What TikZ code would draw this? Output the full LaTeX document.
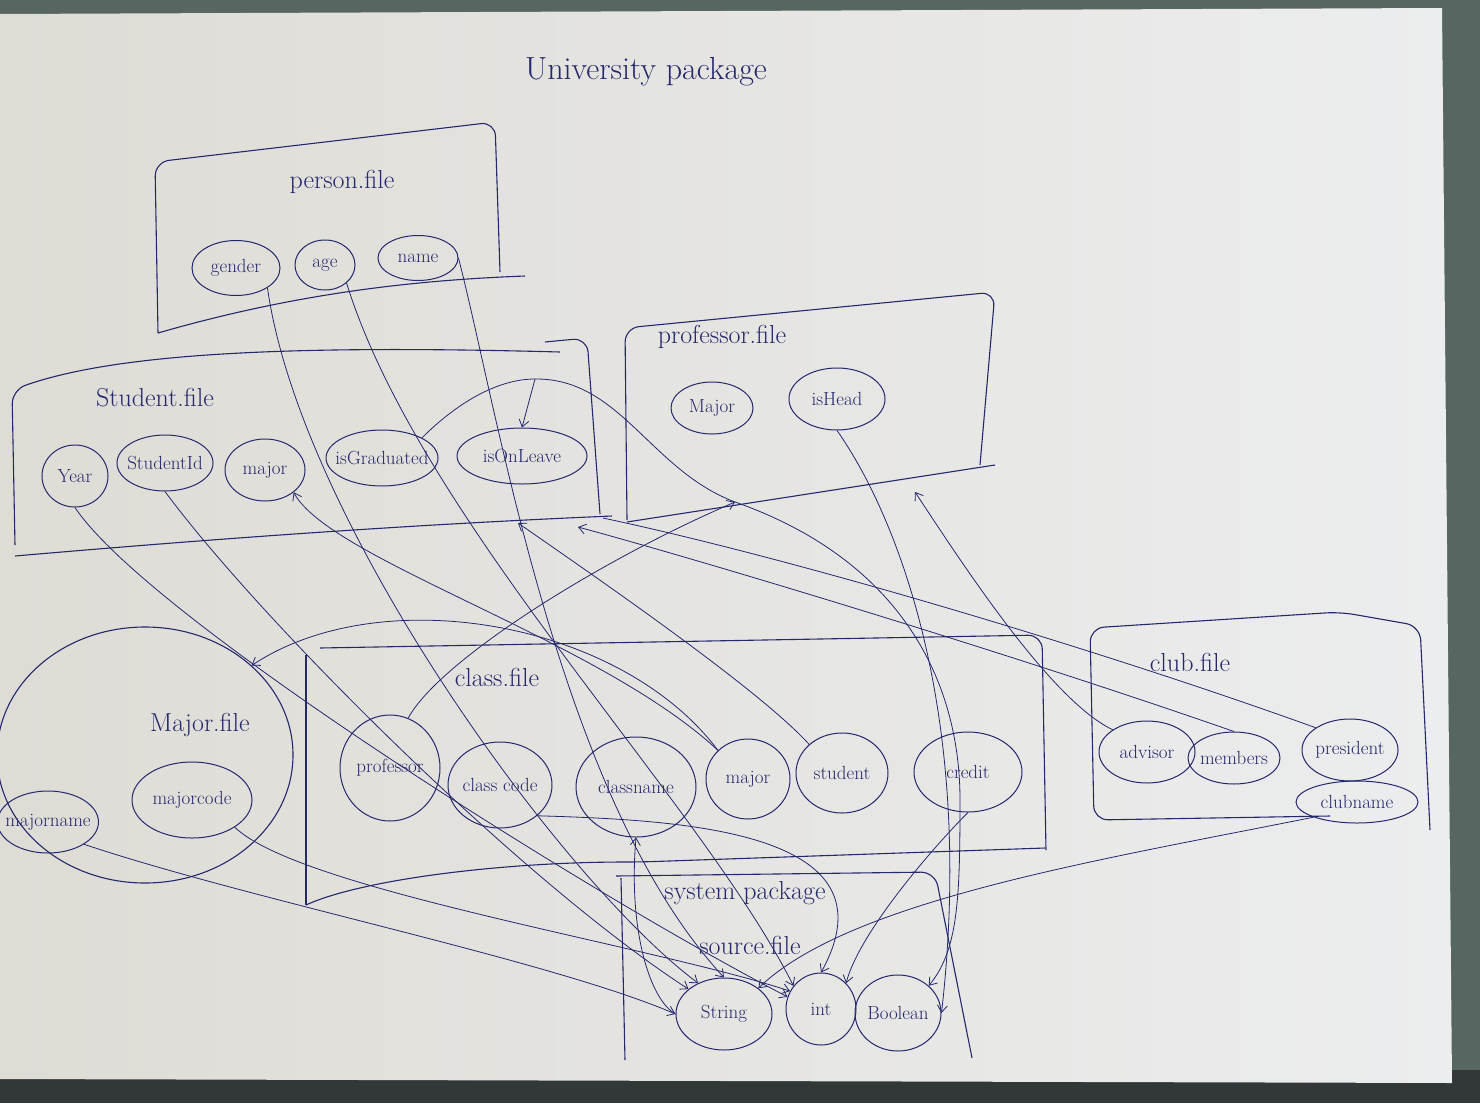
\documentclass[tikz,border=0pt]{standalone}
\usepackage{tikz}
\usetikzlibrary{arrows.meta, positioning, shapes.geometric, calc}
\usepackage{xcolor}
\definecolor{ink}{RGB}{36,40,108}
\definecolor{paperL}{RGB}{222,220,213}
\definecolor{paperR}{RGB}{236,237,238}
\definecolor{desk}{RGB}{88,102,98}
\definecolor{deskdark}{RGB}{50,56,56}

\tikzset{
  box/.style={draw=ink, line width=1.1pt, rounded corners=14pt},
  attr/.style={ellipse, draw=ink, line width=1pt, inner sep=-7pt, text=ink,
    font=\fontsize{19}{21}\selectfont},
  filelabel/.style={text=ink, font=\fontsize{26}{29}\selectfont},
  link/.style={draw=ink, line width=0.8pt},
  linkto/.style={link, -{Straight Barb[length=7pt, width=10pt]}},
}

\begin{document}
\begin{tikzpicture}[x=1pt, y=-1pt]
  \useasboundingbox (0,0) rectangle (1480,1103);
  % Desk and sheet
  \fill[desk] (0,0) rectangle (1480,1103);
  \fill[deskdark] (0,1070) rectangle (1480,1103);
  \shade[left color=paperL, right color=paperR] (0,14) -- (1442,8) -- (1452,1083) -- (0,1079) -- cycle;

  % Title
  \node[filelabel, font=\fontsize{32}{36}\selectfont] (title) at (646,72) {University package};

  % person.file
  \draw[box] (158,333) -- (155,162) -- (495,122) -- (500,272);
  \draw[box] (158,333) .. controls (300,292) and (420,280) .. (525,276);
  \node[filelabel] (personLbl) at (342,182) {person.file};
  \foreach \n/\x/\y/\w/\h/\t in {gender/236/268/88/55/gender, age/325/265/60/50/age,
      name/418/258/80/45/name}
    \node[attr, minimum width=\w, minimum height=\h] (\n) at (\x,\y) {\t};

  % Student.file
  \draw[box] (15,545) -- (12,390) .. controls (120,352) and (300,345) .. (560,352);
  \draw[box] (545,342) -- (587,338) -- (600,514);
  \draw[box] (15,556) .. controls (200,540) and (400,525) .. (612,516);
  \node[filelabel] (studentLbl) at (155,398) {Student.file};
  \foreach \n/\x/\y/\w/\h/\t in {year/75/476/66/62/Year, studentId/165/463/96/56/StudentId,
      stuMajor/265/470/80/62/major, isGraduated/382/458/112/56/isGraduated,
      isOnLeave/522/456/130/56/isOnLeave}
    \node[attr, minimum width=\w, minimum height=\h] (\n) at (\x,\y) {\t};

  % professor.file
  \draw[box] (627,520) -- (625,328) -- (995,292) -- (980,465);
  \draw[box] (627,522) -- (995,465);
  \node[filelabel] (profLbl) at (722,337) {professor.file};
  \foreach \n/\x/\y/\w/\h/\t in {profMajor/712/408/82/52/Major, isHead/837/399/96/62/isHead}
    \node[attr, minimum width=\w, minimum height=\h] (\n) at (\x,\y) {\t};

  % class.file
  \draw[box] (306,905) -- (306,655);
  \draw[box] (320,648) -- (1042,635) -- (1046,850);
  \draw[box] (306,905) .. controls (360,880) and (500,862) .. (640,862) -- (1045,848);
  \node[filelabel] (classLbl) at (497,677) {class.file};
  \foreach \n/\x/\y/\w/\h/\t in {clsProf/390/768/100/106/professor, clsCode/500/785/104/86/class code,
      clsName/636/787/120/100/classname, clsMajor/748/779/84/80/major,
      clsStudent/842/773/92/80/student, credit/968/772/108/80/credit}
    \node[attr, minimum width=\w, minimum height=\h] (\n) at (\x,\y) {\t};

  % Major.file
  \node[ellipse, draw=ink, line width=1.1pt, minimum width=296, minimum height=256] (majorFile) at (145,755) {};
  \node[filelabel] (majorLbl) at (200,725) {Major.file};
  \foreach \n/\x/\y/\w/\h/\t in {majorName/48/822/100/62/majorname, majorCode/192/800/120/76/majorcode}
    \node[attr, minimum width=\w, minimum height=\h] (\n) at (\x,\y) {\t};

  % club.file
  \draw[box] (1330,816) -- (1094,820) -- (1090,628) -- (1340,612) -- (1420,626) -- (1430,830);
  \node[filelabel] (clubLbl) at (1190,662) {club.file};
  \foreach \n/\x/\y/\w/\h/\t in {advisor/1147/752/96/62/advisor, members/1234/758/92/52/members,
      president/1350/750/96/62/president, clubName/1357/802/122/42/clubname}
    \node[attr, minimum width=\w, minimum height=\h] (\n) at (\x,\y) {\t};

  % system package / source.file
  \draw[box] (625,1060) -- (621,878);
  \draw[box] (616,876) -- (935,872) -- (972,1058);
  \node[filelabel] (sysLbl) at (745,893) {system package};
  \node[filelabel] (sourceLbl) at (750,945) {source.file};
  \foreach \n/\x/\y/\w/\h/\t in {typeString/724/1014/96/72/String, typeInt/821/1009/70/72/int,
      typeBool/898/1013/86/76/Boolean}
    \node[attr, minimum width=\w, minimum height=\h] (\n) at (\x,\y) {\t};

  % Free ends on the file boxes
  \coordinate (leaveSplit) at (535,379);
  \coordinate (profIn) at (735,502);
  \coordinate (stuIn) at (518,523);
  \coordinate (memIn) at (578,527);
  \coordinate (presIn) at (603,518);
  \coordinate (advIn) at (915,492);

  % person.file -> types
  \draw[linkto] (gender.south east) .. controls (300,520) and (560,880) .. (typeString.130);
  \draw[linkto] (age.south east) .. controls (420,520) and (700,800) .. (typeInt.140);
  \draw[linkto] (name.east) .. controls (500,420) and (560,800) .. (typeString.north);

  % Student.file -> types
  \draw[linkto] (year.south) .. controls (150,620) and (600,900) .. (typeInt.160);
  \draw[linkto] (studentId.south) .. controls (260,620) and (520,880) .. (typeString.145);
  \draw[link] (isGraduated.north east) .. controls (460,400) and (500,379) .. (leaveSplit);
  \draw[linkto] (leaveSplit) -- (isOnLeave.north);
  \draw[linkto] (leaveSplit) .. controls (620,378) and (650,470) .. (profIn)
    .. controls (900,560) and (960,680) .. (960,800)
    .. controls (960,900) and (958,950) .. (typeBool.north east);

  % professor.file -> types
  \draw[linkto] (isHead.south) .. controls (900,520) and (975,720) .. (typeBool.east);

  % class.file
  \draw[linkto] (clsProf.70) .. controls (440,660) and (600,560) .. (profIn);
  \draw[linkto] (clsMajor.north west) .. controls (600,640) and (330,560) .. (stuMajor.south east);
  \draw[linkto] (clsMajor.north west) .. controls (620,620) and (380,580) .. (majorFile.40);
  \draw[linkto] (clsStudent.north west) .. controls (760,690) and (600,580) .. (stuIn);
  \draw[linkto] (clsCode.south east) .. controls (680,820) and (900,830) .. (typeInt.north);
  \draw[linkto] (typeString.west) .. controls (650,1000) and (628,930) .. (clsName.south);
  \draw[linkto] (credit.south) .. controls (940,840) and (860,930) .. (typeInt.north east);

  % Major.file -> types
  \draw[linkto] (majorName.south east) .. controls (250,900) and (550,960) .. (typeString.west);
  \draw[linkto] (majorCode.south east) .. controls (300,890) and (650,945) .. (typeInt.150);

  % club.file
  \draw[linkto] (advisor.north west) .. controls (1050,700) and (960,560) .. (advIn);
  \draw[linkto] (members.north) .. controls (1000,650) and (700,560) .. (memIn);
  \draw[link] (president.north west) .. controls (1100,650) and (800,560) .. (presIn);
  \draw[linkto] (clubName.south west) .. controls (1100,860) and (850,900) .. (typeString.north east);
\end{tikzpicture}
\end{document}
